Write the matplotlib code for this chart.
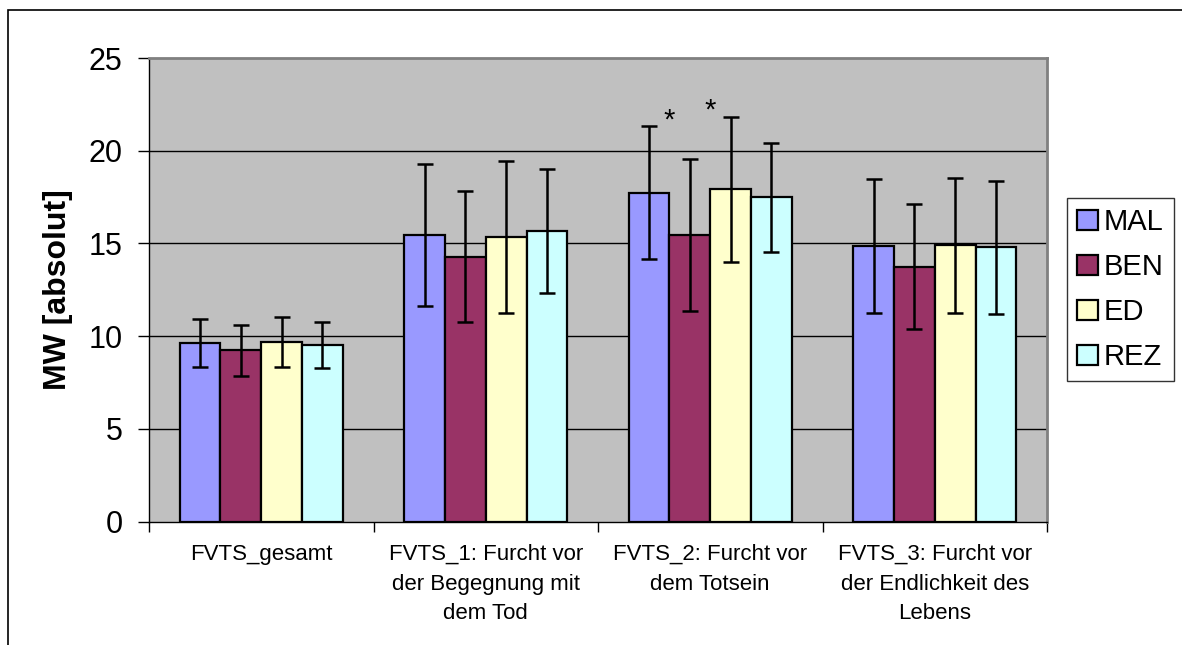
import numpy as np
import matplotlib
matplotlib.use('Agg')
import matplotlib.pyplot as plt
from matplotlib.patches import Rectangle

plt.rcParams['font.family'] = ['Liberation Sans', 'DejaVu Sans']

categories = ['FVTS_gesamt',
              'FVTS_1: Furcht vor\nder Begegnung mit\ndem Tod',
              'FVTS_2: Furcht vor\ndem Totsein',
              'FVTS_3: Furcht vor\nder Endlichkeit des\nLebens']
groups = ['MAL', 'BEN', 'ED', 'REZ']
colors = ['#9999FF', '#993366', '#FFFFCC', '#CCFFFF']

# mean values per group (MAL, BEN, ED, REZ) for each scale
mal = [9.64, 15.45, 17.74, 14.86]
ben = [9.23, 14.29, 15.44, 13.74]
ed = [9.68, 15.34, 17.92, 14.90]
rez = [9.52, 15.66, 17.48, 14.78]

# standard deviations
mal_sd = [1.30, 3.83, 3.58, 3.61]
ben_sd = [1.37, 3.55, 4.10, 3.37]
ed_sd = [1.34, 4.10, 3.90, 3.64]
rez_sd = [1.26, 3.33, 2.95, 3.58]

# significance stars: (category, boundary between bars, y)
star_cat = [2, 2]
star_pos = [-1, 0]
star_y = [21.2, 21.75]

means = [mal, ben, ed, rez]
sds = [mal_sd, ben_sd, ed_sd, rez_sd]

fig = plt.figure(figsize=(11.82, 6.45), dpi=100)
ax = fig.add_axes([149/1182, 1-521.5/645, 898/1182, 463.5/645])
ax.set_facecolor('#C0C0C0')

x = np.arange(len(categories))
w = 1 / 5.5
for i in range(4):
	pos = x + (i - 1.5) * w
	ax.bar(pos, means[i], w, color=colors[i], edgecolor='black', linewidth=1.6,
	       label=groups[i], zorder=3)
	ax.errorbar(pos, means[i], yerr=sds[i], fmt='none', ecolor='black',
	            elinewidth=1.8, capsize=5.5, capthick=1.8, zorder=4)

for c, p, yv in zip(star_cat, star_pos, star_y):
	ax.text(c + p * w, yv, '*', ha='center', va='baseline', fontsize=21, zorder=5)

ax.set_xlim(-0.5, 3.5)
ax.set_ylim(0, 25)
ax.set_yticks([0, 5, 10, 15, 20, 25])
for yv in [5, 10, 15, 20]:
	ax.axhline(yv, color='black', linewidth=1, zorder=1)

ax.set_xticks(np.arange(-0.5, 4, 1))
ax.set_xticklabels([])
ax.set_xticks(x, minor=True)
ax.set_xticklabels(categories, minor=True, fontsize=16, linespacing=1.55)
ax.tick_params(axis='x', which='major', direction='out', length=7, width=1)
ax.tick_params(axis='x', which='minor', length=0, pad=16)
ax.tick_params(axis='y', direction='out', length=8, width=1, labelsize=22, pad=11)

ax.spines['left'].set_color('black')
ax.spines['bottom'].set_color('black')
ax.spines['left'].set_linewidth(1)
ax.spines['bottom'].set_linewidth(1)
ax.spines['top'].set_color('#808080')
ax.spines['right'].set_color('#808080')
ax.spines['top'].set_linewidth(2)
ax.spines['right'].set_linewidth(2)

ax.set_ylabel('MW [absolut]', fontsize=23, fontweight='bold')
ax.yaxis.set_label_coords(-0.085, 0.5)

leg = fig.legend(loc='upper left', bbox_to_anchor=(1067/1182, 1-198/645),
                 borderaxespad=0, fontsize=21, frameon=True, fancybox=False,
                 handlelength=0.7, handleheight=0.7, handletextpad=0.2,
                 labelspacing=0.58, borderpad=0.35)
leg.get_frame().set_edgecolor('black')
leg.get_frame().set_linewidth(1)

fig.patches.append(Rectangle((8/1182, -0.05), 1.1, 1-10/645+0.05,
                             transform=fig.transFigure, fill=False,
                             edgecolor='black', linewidth=1.2))

fig.savefig('out.png', dpi=100)
